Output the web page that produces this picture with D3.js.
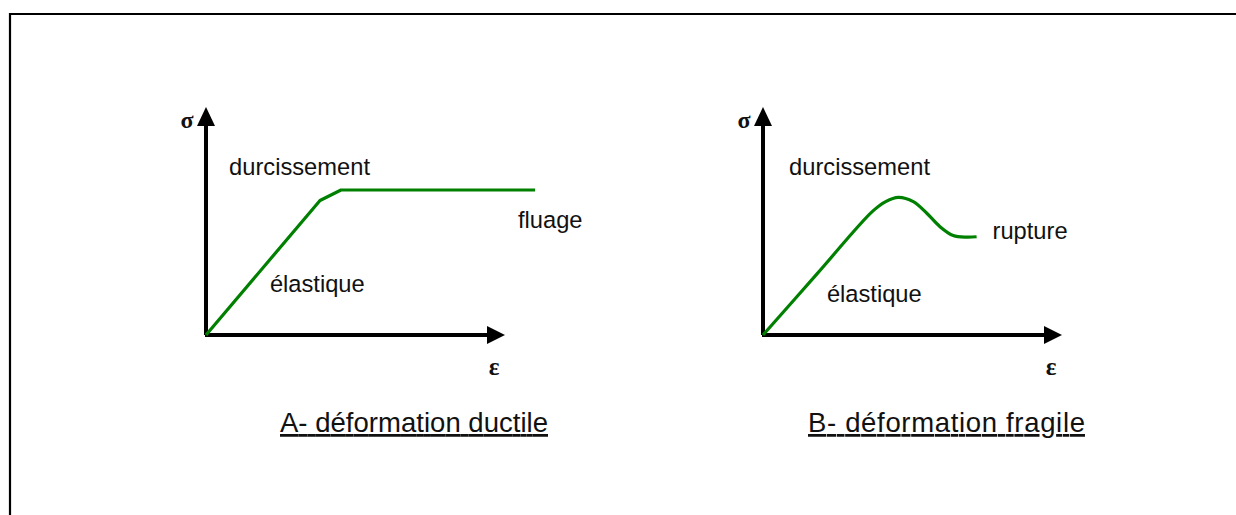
<!DOCTYPE html>
<html>
<head>
<meta charset="utf-8">
<script src="https://cdn.jsdelivr.net/npm/d3@7"></script>
<style>
  body { margin: 0; background: #fff; }
  svg text { font-family: "Liberation Sans", Arial, sans-serif; fill: #111; }
  .sym { font-family: "Liberation Serif", "Times New Roman", serif; font-weight: bold; }
</style>
</head>
<body>
<script>
// strain / stress sketches, units (axis runs 0..10)
var ductileX = [0, 3.8, 4.5, 10.97];
var ductileY = [0, 5.9, 6.36, 6.36];

var fragileX = [0, 1.8, 3.64, 4.09, 4.51, 5.01, 5.46, 5.9, 6.34, 6.79, 7.12];
var fragileY = [0, 2.68, 5.41, 5.85, 6.04, 5.85, 5.34, 4.75, 4.36, 4.29, 4.31];

var titles = ["A- déformation ductile", "B- déformation fragile"];
var labelsA = [["durcissement", 0.77, 7.0], ["élastique", 2.13, 1.9], ["fluage", 10.4, 4.68]];
var labelsB = [["durcissement", 0.87, 7.0], ["élastique", 2.13, 1.46], ["rupture", 7.65, 4.2]];

var W = 1236, H = 515;

var svg = d3.select("body").append("svg")
    .attr("width", W)
    .attr("height", H);

// outer frame (runs off the right and bottom edges)
svg.append("path")
    .attr("d", "M10,540 L10,14 L1260,14")
    .attr("fill", "none")
    .attr("stroke", "#000")
    .attr("stroke-width", 2.2);

function panel(ox, xs, ys, labels, title, titleX, titleW) {
  var x = d3.scaleLinear().domain([0, 10]).range([ox, ox + 300]);
  var y = d3.scaleLinear().domain([0, 10]).range([335, 107]);
  var g = svg.append("g");

  // axes with arrow heads
  g.append("line")
      .attr("x1", x(0)).attr("y1", y(0))
      .attr("x2", x(0)).attr("y2", y(0) - 212)
      .attr("stroke", "#000").attr("stroke-width", 4);
  g.append("path")
      .attr("d", "M" + x(0) + "," + y(10) + " l-9,19 l18,0 z")
      .attr("fill", "#000");
  g.append("line")
      .attr("x1", x(0) - 1).attr("y1", y(0))
      .attr("x2", x(10) - 16).attr("y2", y(0))
      .attr("stroke", "#000").attr("stroke-width", 4);
  g.append("path")
      .attr("d", "M" + (x(10) - 1) + "," + y(0) + " l-18,-9 l0,18 z")
      .attr("fill", "#000");

  g.append("text").attr("class", "sym")
      .attr("x", x(0) - 19).attr("y", y(10) + 21)
      .attr("text-anchor", "middle")
      .style("font-size", "24px")
      .text("σ");
  g.append("text").attr("class", "sym")
      .attr("x", x(10) - 12).attr("y", 375)
      .attr("text-anchor", "middle")
      .style("font-size", "25px")
      .text("ε");

  var pts = xs.map(function(d, i) { return [d, ys[i]]; });
  var line = d3.line()
      .x(function(d) { return x(d[0]); })
      .y(function(d) { return y(d[1]); })
      .curve(xs.length > 4 ? d3.curveCatmullRom : d3.curveLinear);

  g.append("path")
      .datum(pts)
      .attr("fill", "none")
      .attr("stroke", "#008000")
      .attr("stroke-width", 3.2)
      .attr("stroke-linejoin", "round")
      .attr("stroke-linecap", "butt")
      .attr("d", line);

  g.selectAll(".lbl")
      .data(labels)
      .enter().append("text")
      .attr("x", function(d) { return x(d[1]); })
      .attr("y", function(d) { return y(d[2]); })
      .style("font-size", "23.7px")
      .text(function(d) { return d[0]; });

  g.append("text")
      .attr("x", titleX).attr("y", 432)
      .attr("textLength", titleW)
      .style("font-size", "27.5px")
      .style("text-decoration", "underline")
      .text(title);
}

panel(206, ductileX, ductileY, labelsA, titles[0], 280, 268);
panel(763, fragileX, fragileY, labelsB, titles[1], 808, 277);
</script>
</body>
</html>
